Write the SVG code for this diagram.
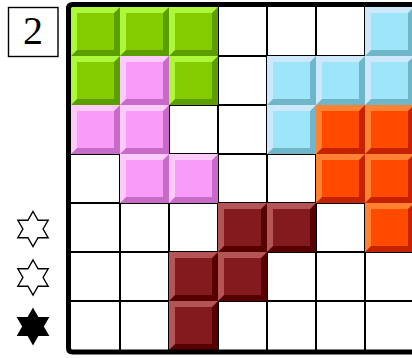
<svg xmlns="http://www.w3.org/2000/svg" width="412" height="358" viewBox="0 0 412 358">
<style>
.grid line{stroke:#000;stroke-width:2}
.green{--d:#5a9e00;--l:#adf83a;--f:#84cc00}
.pink{--d:#c86ac8;--l:#fccbfc;--f:#f99cf9}
.blue{--d:#6eb6c8;--l:#cde7fb;--f:#9de5f9}
.orange{--d:#c42200;--l:#ff8233;--f:#ff4a00}
.red{--d:#560000;--l:#b55454;--f:#831b1e}
.star{stroke:#000;stroke-width:1.4;stroke-linejoin:miter}
</style>
<defs>
<g id="cell">
<rect x="0" y="0" width="49" height="49" style="fill:var(--d)"/>
<path d="M0,0H49L43,6H6V43L0,49Z" style="fill:var(--l)"/>
<rect x="6" y="6" width="37" height="37" style="fill:var(--f)"/>
</g>
<path id="star" d="M0,-17.5L5.05,-8.75L15.16,-8.75L10.1,0L15.16,8.75L5.05,8.75L0,17.5L-5.05,8.75L-15.16,8.75L-10.1,0L-15.16,-8.75L-5.05,-8.75Z"/>
</defs>
<rect width="412" height="358" fill="#fff"/>
<g id="label">
<rect x="8.5" y="7.5" width="49.5" height="49" fill="#fff" stroke="#000" stroke-width="1.4"/>
<text x="33" y="44" font-family="Liberation Serif, serif" font-size="40" text-anchor="middle">2</text>
</g>
<g id="stars">
<use href="#star" x="33" y="229" class="star" fill="#fff"/>
<use href="#star" x="33" y="277.5" class="star" fill="#fff"/>
<use href="#star" x="33" y="326.5" class="star" fill="#000"/>
</g>
<g class="grid" id="grid">
<line x1="120" y1="7" x2="120" y2="350"/>
<line x1="169" y1="7" x2="169" y2="350"/>
<line x1="218" y1="7" x2="218" y2="350"/>
<line x1="267" y1="7" x2="267" y2="350"/>
<line x1="316" y1="7" x2="316" y2="350"/>
<line x1="365" y1="7" x2="365" y2="350"/>
<line x1="71" y1="56" x2="412" y2="56"/>
<line x1="71" y1="105" x2="412" y2="105"/>
<line x1="71" y1="154" x2="412" y2="154"/>
<line x1="71" y1="203" x2="412" y2="203"/>
<line x1="71" y1="252" x2="412" y2="252"/>
<line x1="71" y1="301" x2="412" y2="301"/>
</g>
<g id="green" class="green">
<use href="#cell" x="71" y="7"/><use href="#cell" x="120" y="7"/><use href="#cell" x="169" y="7"/>
<use href="#cell" x="71" y="56"/><use href="#cell" x="169" y="56"/>
</g>
<g id="pink" class="pink">
<use href="#cell" x="120" y="56"/><use href="#cell" x="71" y="105"/><use href="#cell" x="120" y="105"/>
<use href="#cell" x="120" y="154"/><use href="#cell" x="169" y="154"/>
</g>
<g id="blue" class="blue">
<use href="#cell" x="365" y="7"/><use href="#cell" x="267" y="56"/><use href="#cell" x="316" y="56"/>
<use href="#cell" x="365" y="56"/><use href="#cell" x="267" y="105"/>
</g>
<g id="orange" class="orange">
<use href="#cell" x="316" y="105"/><use href="#cell" x="365" y="105"/><use href="#cell" x="316" y="154"/>
<use href="#cell" x="365" y="154"/><use href="#cell" x="365" y="203"/>
</g>
<g id="red" class="red">
<use href="#cell" x="218" y="203"/><use href="#cell" x="267" y="203"/><use href="#cell" x="169" y="252"/>
<use href="#cell" x="218" y="252"/><use href="#cell" x="169" y="301"/>
</g>
<path id="border" d="M414,4.5H72.5Q68.5,4.5 68.5,8.5V348Q68.5,352 72.5,352H414" fill="none" stroke="#000" stroke-width="5"/>
</svg>
